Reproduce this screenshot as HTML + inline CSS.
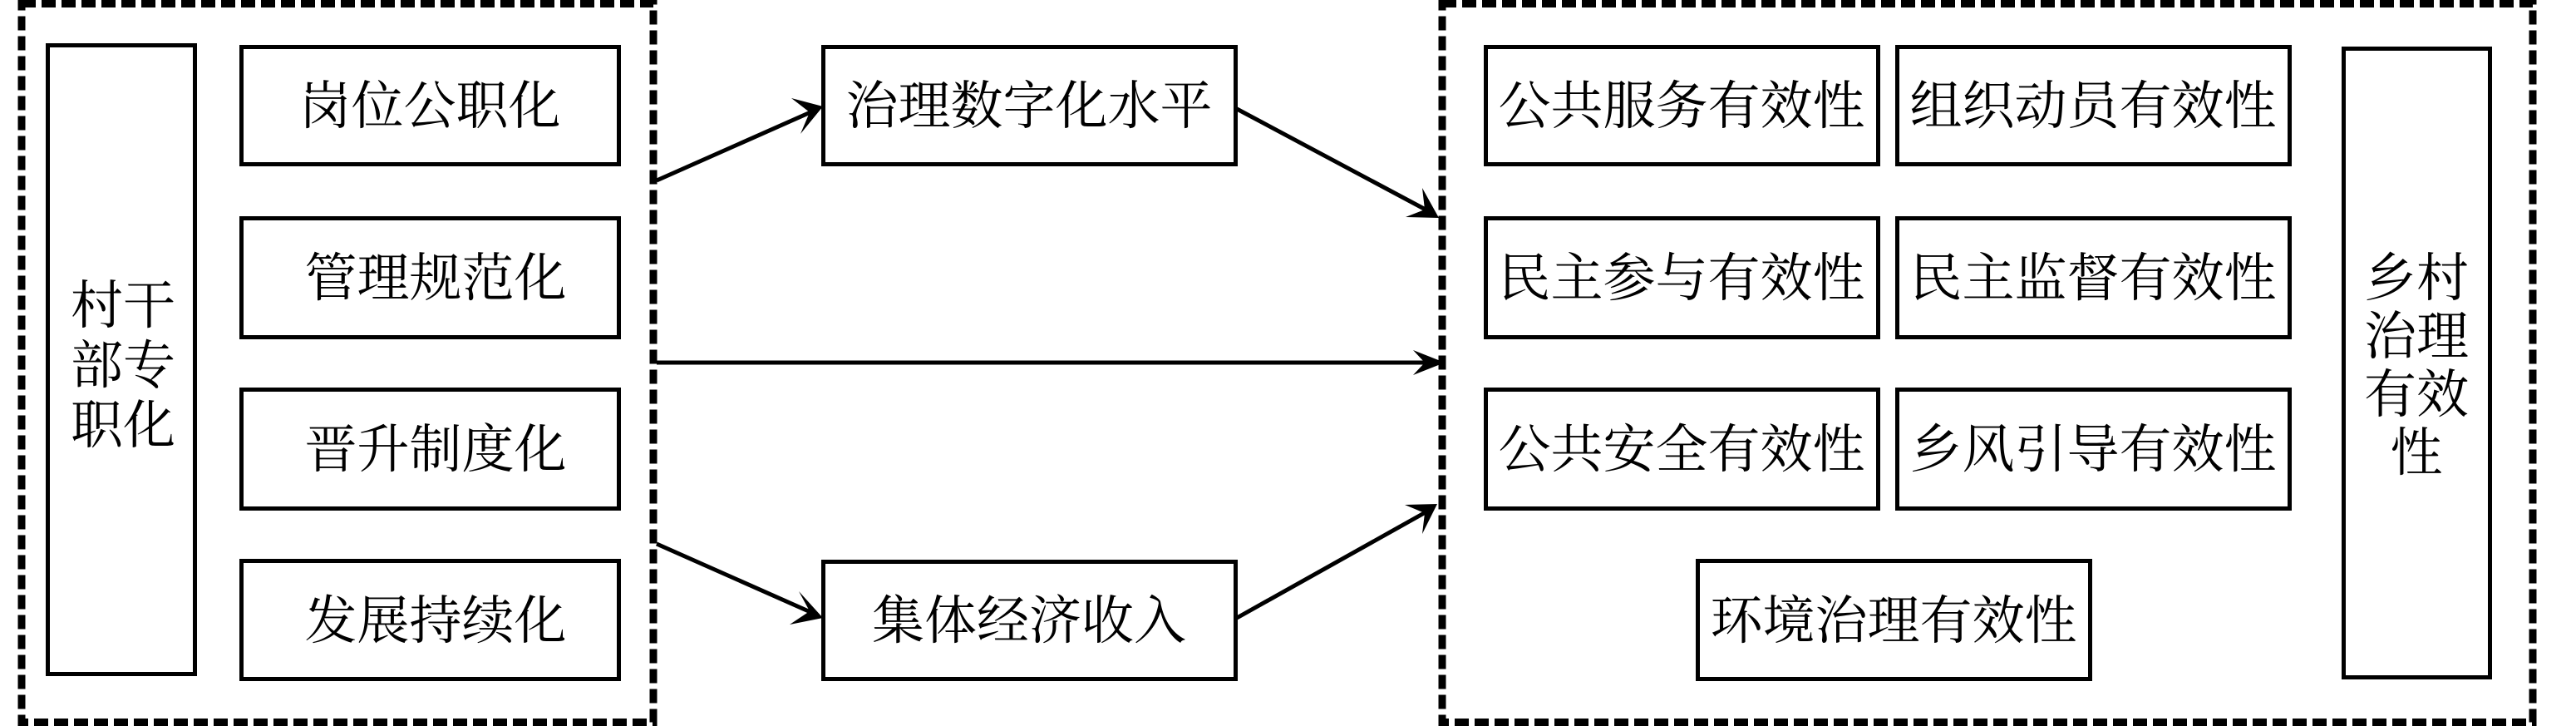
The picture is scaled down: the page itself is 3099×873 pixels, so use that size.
<!DOCTYPE html>
<html><head><meta charset="utf-8"><style>
html,body{margin:0;padding:0;background:#fff;}
svg{display:block;}
text{font-family:"Liberation Serif","Noto Serif CJK SC","Noto Sans CJK SC",serif;font-size:63px;fill:#000;}
</style></head><body>
<svg width="3099" height="873" viewBox="0 0 3099 873" xmlns="http://www.w3.org/2000/svg">
<g fill="none" stroke="#000" stroke-width="9" stroke-dasharray="17 7">
<rect x="26" y="4.5" width="760" height="864"/>
<rect x="1735" y="4.5" width="1312" height="864"/>
</g>
<g fill="none" stroke="#000" stroke-width="5">
<rect x="57.5" y="54.5" width="177" height="756"/>
<rect x="290.5" y="56.5" width="454" height="141"/>
<rect x="290.5" y="262.5" width="454" height="143"/>
<rect x="290.5" y="468.5" width="454" height="143"/>
<rect x="290.5" y="674.5" width="454" height="142"/>
<rect x="990.5" y="56.5" width="496" height="141"/>
<rect x="990.5" y="675.5" width="496" height="141"/>
<rect x="1787.5" y="56.5" width="472" height="141"/>
<rect x="2282.5" y="56.5" width="472" height="141"/>
<rect x="1787.5" y="262.5" width="472" height="143"/>
<rect x="2282.5" y="262.5" width="472" height="143"/>
<rect x="1787.5" y="468.5" width="472" height="143"/>
<rect x="2282.5" y="468.5" width="472" height="143"/>
<rect x="2042.5" y="674.5" width="472" height="142"/>
<rect x="2819.5" y="58.5" width="176" height="756"/>
</g>
<g stroke="#000" stroke-width="5" fill="none">
<line x1="790" y1="217" x2="975" y2="135"/>
<line x1="790" y1="654" x2="975" y2="736"/>
<line x1="790" y1="436" x2="1715" y2="436"/>
<line x1="1488" y1="131" x2="1715" y2="252"/>
<line x1="1488" y1="743" x2="1715" y2="616"/>
</g>
<g fill="#000">
<polygon points="990,128 963,161 974,135 952,118"/>
<polygon points="990,743 950,751 974,735 961,711"/>
<polygon points="1731,262 1691,261 1714,252 1711,226"/>
<polygon points="1738,436 1700,451 1714,436 1700,421"/>
<polygon points="1729,606 1711,642 1714,617 1690,607"/>
</g>
<g text-anchor="middle">
<text x="517" y="149">岗位公职化</text>
<text x="524" y="356">管理规范化</text>
<text x="524" y="562">晋升制度化</text>
<text x="524" y="768">发展持续化</text>
<text x="148" y="389">村干</text>
<text x="148" y="461">部专</text>
<text x="148" y="533">职化</text>
<text x="1238" y="149">治理数字化水平</text>
<text x="1238" y="768">集体经济收入</text>
<text x="2023" y="149">公共服务有效性</text>
<text x="2518" y="149">组织动员有效性</text>
<text x="2023" y="356">民主参与有效性</text>
<text x="2518" y="356">民主监督有效性</text>
<text x="2023" y="562">公共安全有效性</text>
<text x="2518" y="562">乡风引导有效性</text>
<text x="2278" y="768">环境治理有效性</text>
<text x="2907" y="356">乡村</text>
<text x="2907" y="426">治理</text>
<text x="2907" y="496">有效</text>
<text x="2907" y="566">性</text>
</g>
</svg>
</body></html>
